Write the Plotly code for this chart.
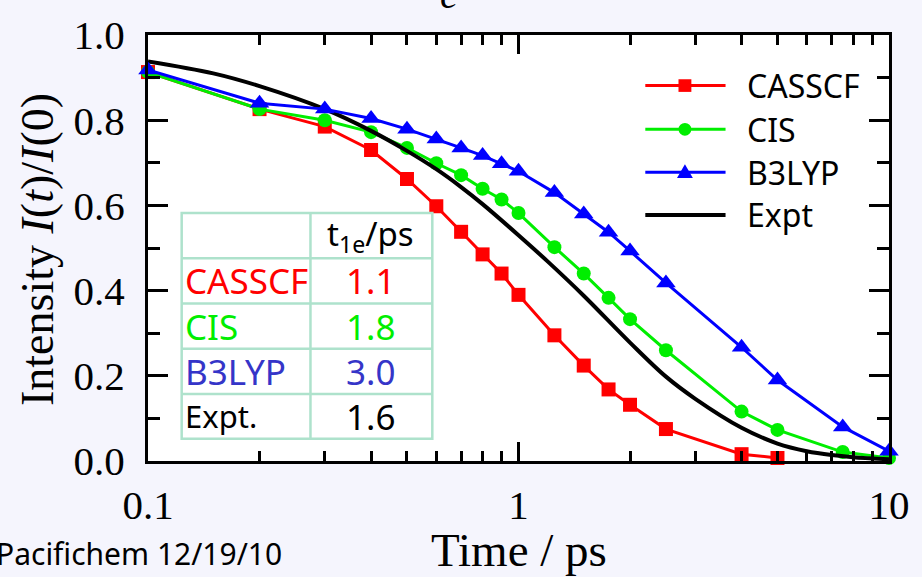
import plotly.graph_objects as go

# ---------------- data ----------------
t_casscf = [0.1, 0.2, 0.3, 0.4, 0.5, 0.6, 0.7, 0.8, 0.9, 1.0, 1.25, 1.5, 1.75, 2.0, 2.5, 4.0, 5.0]
i_casscf = [0.913, 0.826, 0.785, 0.730, 0.662, 0.598, 0.538, 0.485, 0.440, 0.390, 0.295, 0.224, 0.168, 0.132, 0.075, 0.016, 0.007]

t_cis = [0.1, 0.2, 0.3, 0.4, 0.5, 0.6, 0.7, 0.8, 0.9, 1.0, 1.25, 1.5, 1.75, 2.0, 2.5, 4.0, 5.0, 7.5, 10.0]
i_cis = [0.913, 0.826, 0.800, 0.772, 0.735, 0.699, 0.671, 0.639, 0.614, 0.582, 0.502, 0.440, 0.383, 0.333, 0.260, 0.116, 0.073, 0.021, 0.007]

t_b3lyp = [0.1, 0.2, 0.3, 0.4, 0.5, 0.6, 0.7, 0.8, 0.9, 1.0, 1.25, 1.5, 1.75, 2.0, 2.5, 4.0, 5.0, 7.5, 10.0]
i_b3lyp = [0.918, 0.840, 0.826, 0.804, 0.779, 0.756, 0.735, 0.717, 0.698, 0.680, 0.630, 0.580, 0.537, 0.493, 0.418, 0.267, 0.190, 0.080, 0.023]

t_expt = [0.1, 0.15, 0.2, 0.3, 0.4, 0.5, 0.6, 0.7, 0.8, 1.0, 1.2, 1.5, 2.0, 2.5, 3.0, 4.0, 5.0, 6.0, 7.0, 8.0, 10.0]
i_expt = [0.938, 0.910, 0.880, 0.826, 0.775, 0.728, 0.685, 0.643, 0.603, 0.530, 0.468, 0.388, 0.278, 0.198, 0.146, 0.078, 0.041, 0.023, 0.014, 0.009, 0.004]

series_names = ["CASSCF", "CIS", "B3LYP", "Expt"]
table_labels = ["CASSCF", "CIS", "B3LYP", "Expt."]
table_values = ["1.1", "1.8", "3.0", "1.6"]
table_header = "t<sub>1e</sub>/ps"

x_tickvals = [0.1, 1, 10]
x_ticktext = ["0.1", "1", "10"]
y_tickvals = [0.0, 0.2, 0.4, 0.6, 0.8, 1.0]
y_ticktext = ["0.0", "0.2", "0.4", "0.6", "0.8", "1.0"]

# ---------------- styles ----------------
RED, GREEN, BLUE, BLACK = "#ff0000", "#00ee00", "#0000ff", "#000000"
TBL_BLUE = "#3535c8"
GRID = "#aee2cc"
BG = "#f5f5fd"
SERIF = "Liberation Serif"
SANS = "Noto Sans"

W, H = 922, 577
L, R, T, B = 148, 896, 23, 461


def px(x):
    return (x - L) / (R - L)


def py(y):
    return (B - y) / (B - T)


fig = go.Figure()
fig.add_trace(go.Scatter(x=t_casscf, y=i_casscf, name=series_names[0], mode="lines+markers",
                         line=dict(color=RED, width=3),
                         marker=dict(symbol="square", size=14, color=RED), cliponaxis=False))
fig.add_trace(go.Scatter(x=t_cis, y=i_cis, name=series_names[1], mode="lines+markers",
                         line=dict(color=GREEN, width=3),
                         marker=dict(symbol="circle", size=14, color=GREEN), cliponaxis=False))
fig.add_trace(go.Scatter(x=t_expt, y=i_expt, name=series_names[3], mode="lines",
                         line=dict(color=BLACK, width=4, shape="spline", smoothing=1.0), cliponaxis=False))
fig.add_trace(go.Scatter(x=t_b3lyp, y=i_b3lyp, name=series_names[2], mode="lines+markers",
                         line=dict(color=BLUE, width=3),
                         marker=dict(symbol="triangle-up", size=17, color=BLUE), cliponaxis=False))

shapes = []
annotations = []

# ---- manual legend ----
leg_rows = [75, 120, 164, 208]
leg_colors = [RED, GREEN, BLUE, BLACK]
for k, (name, col, yy) in enumerate(zip(series_names, leg_colors, leg_rows)):
    shapes.append(dict(type="line", xref="paper", yref="paper",
                       x0=px(650), x1=px(731), y0=py(yy), y1=py(yy),
                       line=dict(color=col, width=4 if k == 3 else 3)))
    cx = 690
    if k == 0:
        s = 6.5
        shapes.append(dict(type="rect", xref="paper", yref="paper",
                           x0=px(cx - s), x1=px(cx + s), y0=py(yy - s), y1=py(yy + s),
                           fillcolor=col, line=dict(width=0)))
    elif k == 1:
        s = 6.5
        shapes.append(dict(type="circle", xref="paper", yref="paper",
                           x0=px(cx - s), x1=px(cx + s), y0=py(yy - s), y1=py(yy + s),
                           fillcolor=col, line=dict(width=0)))
    elif k == 2:
        x0p, x1p, xm = px(cx - 8), px(cx + 8), px(cx)
        ytop, ybot = py(yy - 8), py(yy + 6)
        shapes.append(dict(type="path", xref="paper", yref="paper",
                           path=f"M {x0p} {ybot} L {x1p} {ybot} L {xm} {ytop} Z",
                           fillcolor=col, line=dict(width=0)))
    annotations.append(dict(xref="paper", yref="paper", x=px(751), y=py(yy),
                            xanchor="left", yanchor="middle", showarrow=False,
                            text=name, font=dict(family=SANS, size=32, color=BLACK)))

# ---- inset table ----
tl, tr, tc = 182, 435, 312
rows = [206, 252.5, 299, 345.5, 392, 438]
shapes.append(dict(type="rect", xref="paper", yref="paper",
                   x0=px(tl), x1=px(tr), y0=py(rows[0]), y1=py(rows[-1]),
                   fillcolor="white", line=dict(color=GRID, width=2.5), layer="above"))
shapes.append(dict(type="line", xref="paper", yref="paper",
                   x0=px(tc), x1=px(tc), y0=py(rows[0]), y1=py(rows[-1]),
                   line=dict(color=GRID, width=2.5), layer="above"))
for r in rows[1:-1]:
    shapes.append(dict(type="line", xref="paper", yref="paper",
                       x0=px(tl), x1=px(tr), y0=py(r), y1=py(r),
                       line=dict(color=GRID, width=2.5), layer="above"))

annotations.append(dict(xref="paper", yref="paper", x=px(373), y=py((rows[0] + rows[1]) / 2),
                        xanchor="center", yanchor="middle", showarrow=False,
                        text=table_header, font=dict(family=SANS, size=33, color=BLACK)))
tcolors = [RED, GREEN, TBL_BLUE, BLACK]
for k in range(4):
    yc = (rows[k + 1] + rows[k + 2]) / 2
    fs = 35 if k < 3 else 31
    annotations.append(dict(xref="paper", yref="paper", x=px(183), y=py(yc),
                            xanchor="left", yanchor="middle", showarrow=False,
                            text=table_labels[k], font=dict(family=SANS, size=fs, color=tcolors[k])))
    annotations.append(dict(xref="paper", yref="paper", x=px(373), y=py(yc),
                            xanchor="center", yanchor="middle", showarrow=False,
                            text=table_values[k], font=dict(family=SANS, size=35, color=tcolors[k])))

# ---- axis titles and other text ----
annotations.append(dict(xref="paper", yref="paper", x=px(37), y=py(244),
                        xanchor="center", yanchor="middle", showarrow=False, textangle=-90,
                        text="Intensity <i>I</i>(<i>t</i>)/<i>I</i>(0)",
                        font=dict(family=SERIF, size=46, color=BLACK)))
annotations.append(dict(xref="paper", yref="paper", x=px(522), y=py(553),
                        xanchor="center", yanchor="middle", showarrow=False,
                        text="Time / ps", font=dict(family=SERIF, size=47, color=BLACK)))
annotations.append(dict(xref="paper", yref="paper", x=px(-7), y=py(556),
                        xanchor="left", yanchor="middle", showarrow=False,
                        text="Pacifichem 12/19/10", font=dict(family=SANS, size=30, color=BLACK)))
annotations.append(dict(xref="paper", yref="paper", x=px(452), y=py(7),
                        xanchor="center", yanchor="bottom", showarrow=False,
                        text="<i>e</i>", font=dict(family=SERIF, size=40, color=BLACK)))

fig.update_layout(
    width=W, height=H,
    margin=dict(l=L, r=W - R, t=T, b=H - B, pad=0),
    paper_bgcolor=BG, plot_bgcolor="white",
    showlegend=False,
    shapes=shapes, annotations=annotations,
    xaxis=dict(type="log", range=[-1, 1], tickvals=x_tickvals, ticktext=x_ticktext,
               ticks="inside", ticklen=19, tickwidth=2.5, tickcolor=BLACK,
               showline=True, linewidth=3, linecolor=BLACK, mirror="allticks",
               showgrid=False, zeroline=False,
               tickfont=dict(family=SERIF, size=41, color=BLACK), ticklabelstandoff=6,
               minor=dict(tickvals=[0.2, 0.3, 0.4, 0.5, 0.6, 0.7, 0.8, 0.9, 2, 3, 4, 5, 6, 7, 8, 9],
                          ticks="inside", ticklen=10, tickwidth=2.5, tickcolor=BLACK, showgrid=False)),
    yaxis=dict(range=[0, 1], tickvals=y_tickvals, ticktext=y_ticktext,
               ticks="inside", ticklen=20, tickwidth=2.5, tickcolor=BLACK,
               showline=True, linewidth=3, linecolor=BLACK, mirror="allticks",
               showgrid=False, zeroline=False,
               tickfont=dict(family=SERIF, size=41, color=BLACK), ticklabelstandoff=12,
               minor=dict(dtick=0.1, ticks="inside", ticklen=12, tickwidth=2.5,
                          tickcolor=BLACK, showgrid=False)),
)

fig.write_html("out.html")
